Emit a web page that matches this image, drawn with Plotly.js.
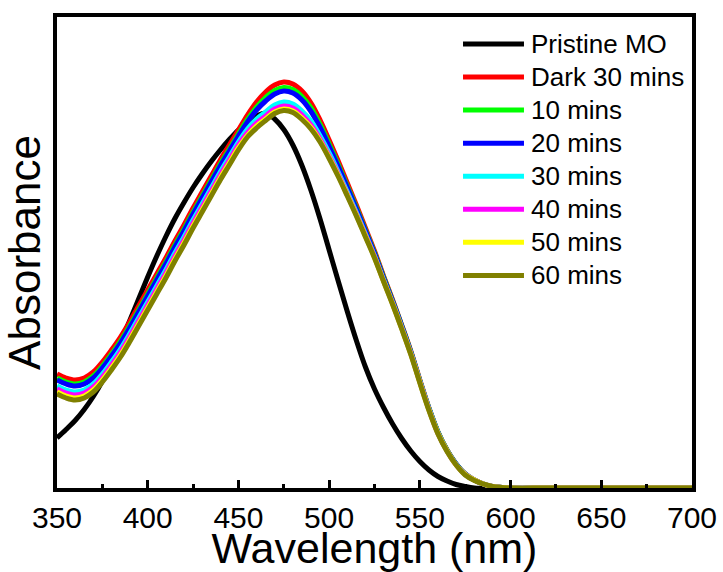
<!DOCTYPE html>
<html>
<head>
<meta charset="utf-8">
<script src="https://cdn.plot.ly/plotly-3.0.1.min.js"></script>
<style>
html,body{margin:0;padding:0;background:#fff;}
#chart{width:723px;height:572px;}
</style>
</head>
<body>
<div id="chart"></div>
<script>
// Wavelength grid (nm)
const wavelength = [350,355,360,365,370,375,380,385,390,395,400,405,410,415,420,425,430,435,440,445,450,455,460,465,470,475,480,485,490,495,500,505,510,515,520,525,530,535,540,545,550,555,560,565,570,575,580,585,590,600,620,650,700];

// Absorbance (arbitrary units)
const pristineMO = [0.104,0.121,0.139,0.161,0.187,0.218,0.255,0.295,0.338,0.382,0.426,0.468,0.507,0.543,0.575,0.605,0.632,0.657,0.680,0.701,0.720,0.736,0.748,0.754,0.742,0.721,0.690,0.649,0.599,0.542,0.480,0.418,0.357,0.299,0.246,0.202,0.165,0.132,0.103,0.078,0.057,0.040,0.027,0.018,0.011,0.007,0.004,0.003,0.002,0.002,0.002,0.002,0.002];
const dark30 = [0.232,0.224,0.220,0.224,0.236,0.256,0.280,0.306,0.336,0.368,0.400,0.432,0.464,0.498,0.530,0.564,0.596,0.628,0.660,0.690,0.720,0.750,0.776,0.796,0.810,0.816,0.812,0.798,0.774,0.740,0.700,0.658,0.614,0.570,0.524,0.478,0.428,0.380,0.330,0.278,0.220,0.164,0.116,0.080,0.052,0.032,0.020,0.012,0.007,0.004,0.004,0.004,0.004];
const min10 = [0.224,0.216,0.212,0.216,0.228,0.248,0.272,0.298,0.328,0.360,0.392,0.424,0.456,0.490,0.522,0.556,0.588,0.620,0.652,0.682,0.712,0.741,0.766,0.785,0.799,0.805,0.801,0.787,0.764,0.731,0.692,0.651,0.608,0.565,0.520,0.475,0.426,0.378,0.329,0.277,0.219,0.164,0.116,0.080,0.052,0.032,0.020,0.012,0.007,0.004,0.004,0.004,0.004];
const min20 = [0.220,0.212,0.208,0.212,0.224,0.244,0.268,0.294,0.324,0.356,0.388,0.420,0.452,0.486,0.518,0.552,0.584,0.616,0.648,0.678,0.708,0.736,0.760,0.778,0.792,0.798,0.794,0.780,0.757,0.725,0.687,0.647,0.605,0.562,0.518,0.473,0.424,0.377,0.328,0.276,0.218,0.163,0.115,0.079,0.052,0.032,0.020,0.012,0.007,0.004,0.004,0.004,0.004];
const min30 = [0.208,0.200,0.196,0.200,0.212,0.232,0.256,0.282,0.312,0.344,0.376,0.408,0.440,0.474,0.506,0.540,0.572,0.604,0.636,0.666,0.696,0.722,0.742,0.756,0.770,0.776,0.772,0.758,0.738,0.708,0.674,0.636,0.596,0.555,0.512,0.468,0.420,0.374,0.325,0.274,0.217,0.162,0.114,0.078,0.051,0.031,0.020,0.012,0.007,0.004,0.004,0.004,0.004];
const min40 = [0.202,0.194,0.190,0.194,0.206,0.226,0.250,0.276,0.306,0.338,0.370,0.402,0.434,0.468,0.500,0.534,0.566,0.598,0.630,0.660,0.690,0.715,0.734,0.748,0.762,0.768,0.764,0.750,0.730,0.702,0.668,0.632,0.592,0.552,0.510,0.467,0.419,0.373,0.324,0.273,0.216,0.161,0.113,0.078,0.050,0.031,0.020,0.012,0.007,0.004,0.004,0.004,0.004];
const min50 = [0.196,0.188,0.184,0.188,0.200,0.220,0.244,0.270,0.300,0.332,0.364,0.396,0.428,0.462,0.494,0.528,0.560,0.592,0.624,0.654,0.684,0.709,0.728,0.742,0.756,0.762,0.758,0.744,0.725,0.698,0.665,0.629,0.590,0.550,0.508,0.465,0.418,0.372,0.323,0.272,0.215,0.160,0.113,0.078,0.050,0.031,0.020,0.012,0.007,0.004,0.004,0.004,0.004];
const min60 = [0.192,0.184,0.180,0.184,0.196,0.216,0.240,0.266,0.296,0.328,0.360,0.392,0.424,0.458,0.490,0.524,0.556,0.588,0.620,0.650,0.680,0.706,0.724,0.739,0.753,0.759,0.755,0.741,0.722,0.696,0.663,0.627,0.588,0.548,0.506,0.464,0.417,0.371,0.322,0.271,0.214,0.159,0.112,0.077,0.050,0.030,0.019,0.012,0.007,0.004,0.004,0.004,0.004];

const seriesNames = ["Pristine MO","Dark 30 mins","10 mins","20 mins","30 mins","40 mins","50 mins","60 mins"];
const seriesValues = [pristineMO, dark30, min10, min20, min30, min40, min50, min60];
const seriesColors = ["#000000","#FF0000","#00FF00","#0000FF","#00FFFF","#FF00FF","#FFFF00","#808000"];
const xTickValues = [350,400,450,500,550,600,650,700];

const FONT = "Liberation Sans, Arial, sans-serif";

const traces = seriesNames.map((name, i) => ({
  type: "scatter",
  mode: "lines",
  name: name,
  x: wavelength,
  y: seriesValues[i],
  line: {color: seriesColors[i], width: 5, shape: "spline", smoothing: 1},
  hoverinfo: "skip",
  showlegend: false
}));

// Hand-laid legend (paper coordinates), styled like the original figure
const LEG = {x0: 0.6394, x1: 0.7354, xText: 0.7433, yTop: 0.9427, step: 0.0702};
const legendShapes = seriesNames.map((name, i) => ({
  type: "line", xref: "paper", yref: "paper",
  x0: LEG.x0, x1: LEG.x1,
  y0: LEG.yTop - i * LEG.step, y1: LEG.yTop - i * LEG.step,
  line: {color: seriesColors[i], width: 5}
}));
const legendTexts = seriesNames.map((name, i) => ({
  xref: "paper", yref: "paper",
  x: LEG.xText, y: LEG.yTop - i * LEG.step,
  xanchor: "left", yanchor: "middle",
  text: name, showarrow: false,
  font: {family: FONT, size: 26, color: "#000000"}
}));

const layout = {
  width: 723,
  height: 572,
  paper_bgcolor: "#ffffff",
  plot_bgcolor: "#ffffff",
  margin: {l: 57, r: 31, t: 17, b: 84, pad: 0},
  font: {family: FONT, color: "#000000"},
  showlegend: false,
  shapes: legendShapes,
  annotations: legendTexts,
  xaxis: {
    range: [350, 700],
    tickmode: "array",
    tickvals: xTickValues,
    ticktext: xTickValues.map(String),
    ticks: "inside",
    ticklen: 8,
    tickwidth: 3,
    tickcolor: "#000000",
    minor: {ticks: "inside", ticklen: 4, tickwidth: 3, tickcolor: "#000000", dtick: 25, tick0: 350, showgrid: false},
    showline: true, linewidth: 4, linecolor: "#000000", mirror: true,
    showgrid: false, zeroline: false,
    tickfont: {family: FONT, size: 30, color: "#000000"},
    title: {text: "Wavelength (nm)", font: {family: FONT, size: 43, color: "#000000"}, standoff: 0}
  },
  yaxis: {
    range: [0.004, 0.946],
    showticklabels: false,
    ticks: "",
    showline: true, linewidth: 4, linecolor: "#000000", mirror: true,
    showgrid: false, zeroline: false,
    title: {text: "Absorbance", font: {family: FONT, size: 44, color: "#000000"}, standoff: 0}
  }
};

Plotly.newPlot("chart", traces, layout, {displayModeBar: false, staticPlot: true});
</script>
</body>
</html>
